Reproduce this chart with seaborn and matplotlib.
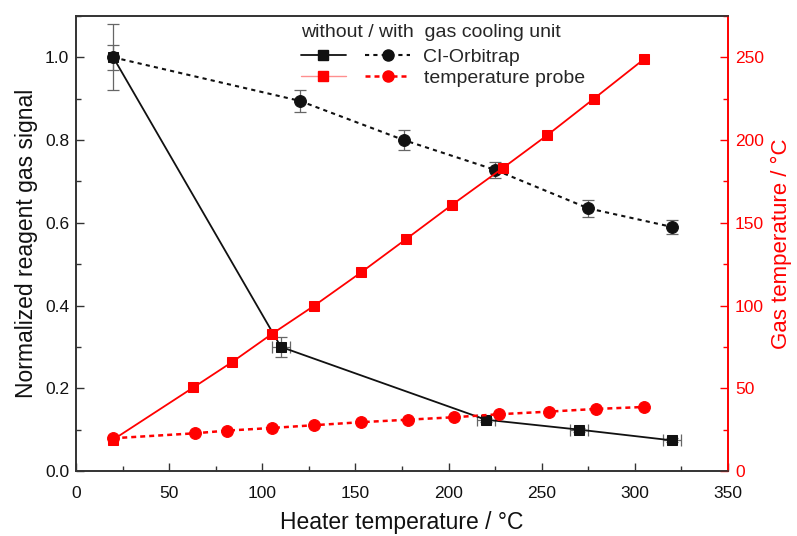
import numpy as np
import pandas as pd
import matplotlib
matplotlib.use("Agg")
import matplotlib.pyplot as plt
import seaborn as sns
from matplotlib.lines import Line2D
from matplotlib.legend_handler import HandlerTuple
from matplotlib.ticker import MultipleLocator

# ---------------- data ----------------
orbi_wo_x = [20, 110, 220, 270, 320]
orbi_wo_y = [1.0, 0.30, 0.124, 0.100, 0.074]
orbi_wo_yerr = [0.08, 0.025, 0.005, 0.005, 0.005]
orbi_wo_xerr = [0, 5, 5, 5, 5]

orbi_w_x = [20, 120, 176, 225, 275, 320]
orbi_w_y = [1.0, 0.895, 0.80, 0.728, 0.635, 0.59]
orbi_w_yerr = [0.03, 0.027, 0.025, 0.02, 0.02, 0.018]

probe_wo_x = [20, 63, 84, 105, 128, 153, 177, 202, 229, 253, 278, 305]
probe_wo_y = [19, 50.5, 66, 82.7, 100, 120, 140, 161, 183, 203, 225, 249]

probe_w_x = [20, 64, 81, 105, 128, 153, 178, 203, 227, 254, 279, 305]
probe_w_y = [19.8, 22.8, 24.4, 26, 27.7, 29.5, 31, 32.5, 34.3, 35.9, 37.5, 38.7]

x_ticks = [0, 50, 100, 150, 200, 250, 300, 350]
y_ticks = [0.0, 0.2, 0.4, 0.6, 0.8, 1.0]
y2_ticks = [0, 50, 100, 150, 200, 250]

legend_title = "without / with  gas cooling unit"
legend_labels = ["CI-Orbitrap", "temperature probe"]
xlabel = "Heater temperature / °C"
ylabel = "Normalized reagent gas signal"
y2label = "Gas temperature / °C"

# ---------------- style ----------------
sns.set_theme(style="ticks")
plt.rcParams['font.family'] = ['Liberation Sans', 'DejaVu Sans']
RED = "#ff0000"
SPINE = "#333333"
ECOL = "#666666"

fig = plt.figure(figsize=(7.97, 5.36), dpi=100)
ax = fig.add_axes([76 / 797, 1 - 471 / 536, (728 - 76) / 797, (471 - 16) / 536])
ax2 = ax.twinx()

# ---------------- black series (left axis) ----------------
ax.errorbar(orbi_wo_x, orbi_wo_y, yerr=orbi_wo_yerr, xerr=orbi_wo_xerr, fmt='none',
            ecolor=ECOL, elinewidth=0.9, capsize=4, capthick=0.9, zorder=2)
ax.errorbar(orbi_w_x, orbi_w_y, yerr=orbi_w_yerr, fmt='none',
            ecolor=ECOL, elinewidth=0.9, capsize=4, capthick=0.9, zorder=2)
sns.lineplot(x=orbi_wo_x, y=orbi_wo_y, ax=ax, color="#111111", lw=1.3,
             marker='s', markersize=6.5, markeredgecolor="#111111",
             sort=False, estimator=None, zorder=3)
sns.lineplot(x=orbi_w_x, y=orbi_w_y, ax=ax, color="#111111", lw=1.5,
             linestyle=(0, (2, 2)), marker='o', markersize=8.5,
             markeredgecolor="#111111", sort=False, estimator=None, zorder=3)

# ---------------- red series (right axis) ----------------
sns.lineplot(x=probe_wo_x, y=probe_wo_y, ax=ax2, color=RED, lw=1.3,
             marker='s', markersize=7, markeredgecolor=RED,
             sort=False, estimator=None, zorder=3)
sns.lineplot(x=probe_w_x, y=probe_w_y, ax=ax2, color=RED, lw=1.8,
             linestyle=(0, (2, 1.6)), marker='o', markersize=8.5,
             markeredgecolor=RED, sort=False, estimator=None, zorder=3)

# ---------------- axes ----------------
ax.set_xlim(0, 350)
ax.set_ylim(0, 1.1)
ax2.set_ylim(0, 275)
ax.set_xticks(x_ticks)
ax.set_yticks(y_ticks)
ax2.set_yticks(y2_ticks)
ax.xaxis.set_minor_locator(MultipleLocator(25))
ax.yaxis.set_minor_locator(MultipleLocator(0.1))
ax2.yaxis.set_minor_locator(MultipleLocator(25))
ax.set_yticklabels([f"{v:.1f}" for v in y_ticks])

ax.tick_params(axis='y', which='major', direction='in', length=6, width=1.0,
               color=SPINE, labelsize=12.5, labelcolor='#111111', pad=5)
ax.tick_params(axis='x', which='major', direction='in', length=6, width=1.0,
               color=SPINE, labelsize=12.5, labelcolor='#111111', pad=11)
ax.tick_params(axis='both', which='minor', direction='in', length=3.5, width=1.0,
               color=SPINE)
ax2.tick_params(axis='y', which='major', direction='in', length=6, width=1.0,
                color=RED, labelsize=12.5, labelcolor=RED, pad=5)
ax2.tick_params(axis='y', which='minor', direction='in', length=3.5, width=1.0,
                color=RED)

for a in (ax, ax2):
    for s in ('left', 'bottom', 'top'):
        a.spines[s].set_color(SPINE)
        a.spines[s].set_linewidth(1.2)
    a.spines['right'].set_color(RED)
    a.spines['right'].set_linewidth(1.2)

ax.set_xlabel(xlabel, fontsize=16.5, color='#111111', labelpad=7)
ax.set_ylabel(ylabel, fontsize=16.5, color='#111111', labelpad=5)
ax2.set_ylabel(y2label, fontsize=16, color=RED, labelpad=5)

# ---------------- legend ----------------
h_orbi = (Line2D([0], [0], color="#111111", lw=1.3, marker='s', markersize=6.5),
          Line2D([0], [0], color="#111111", lw=1.5, linestyle=(0, (2, 2)),
                 marker='o', markersize=8))
h_probe = (Line2D([0], [0], color="#ff8f8f", lw=1.0, marker='s', markersize=7,
                  markerfacecolor=RED, markeredgecolor=RED),
           Line2D([0], [0], color=RED, lw=1.8, linestyle=(0, (2, 1.6)),
                  marker='o', markersize=8))
leg = ax2.legend([h_orbi, h_probe], legend_labels, title=legend_title,
                 handler_map={tuple: HandlerTuple(ndivide=None, pad=1.0)},
                 handlelength=5.6, handletextpad=0.7, labelspacing=0.2,
                 frameon=False, fontsize=14, title_fontsize=14,
                 loc='upper left', bbox_to_anchor=(301 / 797, 1 - 24 / 536),
                 bbox_transform=fig.transFigure, borderaxespad=0, borderpad=0,
                 alignment='left')
leg._legend_box.sep = 5

fig.savefig("out.png", dpi=100)
